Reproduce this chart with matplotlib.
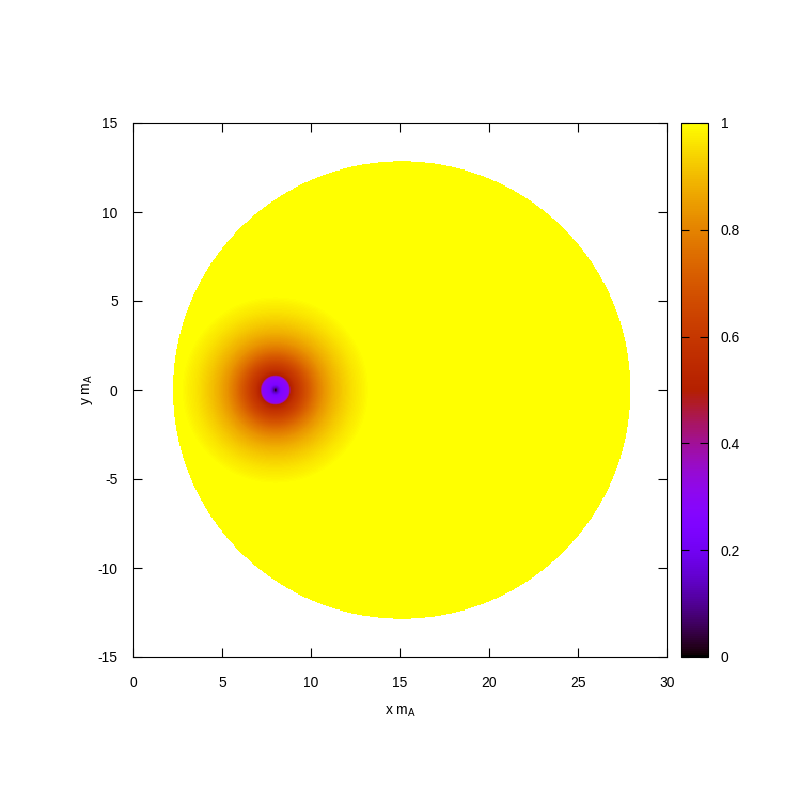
import numpy as np
import matplotlib
matplotlib.use("Agg")
from matplotlib import pyplot as plt

plt.rcParams['font.family'] = ['Liberation Sans', 'DejaVu Sans']
plt.rcParams['mathtext.fontset'] = 'custom'
plt.rcParams['mathtext.rm'] = 'Liberation Sans'
plt.rcParams['axes.unicode_minus'] = False

# disc (trap) and vortex position, in units of m_A
disc_center = (15.1, 0.0)
disc_radius = 12.85
vortex_center = (8.0, 0.0)

# radial density profile around the vortex core
profile_r = [0.0, 0.1, 0.3, 0.6, 0.75, 0.85, 1.1, 1.4, 1.8, 2.2, 2.7, 3.2, 3.8, 4.4, 5.0, 5.3]
profile_v = [0.0, 0.12, 0.24, 0.28, 0.31, 0.50, 0.57, 0.62, 0.69, 0.76, 0.83, 0.88, 0.925, 0.96, 0.985, 1.0]

x_ticks = [0, 5, 10, 15, 20, 25, 30]
y_ticks = [-15, -10, -5, 0, 5, 10, 15]
cb_ticks = [0, 0.2, 0.4, 0.6, 0.8, 1]

# grid
step = 0.06
xs = np.arange(0, 30 + step, step)
ys = np.arange(-15, 15 + step, step)
X, Y = np.meshgrid(xs, ys)
rv = np.hypot(X - vortex_center[0], Y - vortex_center[1])
Z = np.interp(rv, profile_r, profile_v)
outside = np.hypot(X - disc_center[0], Y - disc_center[1]) > disc_radius
Z = np.ma.masked_where(outside, Z)

fig = plt.figure(figsize=(8, 8), dpi=100)
ax = fig.add_axes([0.16625, 0.17875, 0.6675, 0.6675])
mesh = ax.pcolormesh(X, Y, Z, cmap='gnuplot', vmin=0, vmax=1, shading='nearest')
ax.set_xlim(0, 30)
ax.set_ylim(-15, 15)
ax.set_xticks(x_ticks)
ax.set_yticks(y_ticks)
ax.tick_params(direction='in', length=6.5, width=0.8, top=True, right=True,
               labelsize=10, colors='black')
ax.tick_params(axis='x', pad=14)
ax.tick_params(axis='y', pad=11)
ax.set_xlabel('x m$_\\mathrm{A}$', fontsize=10, labelpad=10)
ax.set_ylabel('y m$_\\mathrm{A}$', fontsize=10, labelpad=2)
for s in ax.spines.values():
    s.set_linewidth(0.8)

cax = fig.add_axes([0.85125, 0.17875, 0.03375, 0.6675])
cb = fig.colorbar(mesh, cax=cax, ticks=cb_ticks)
cb.ax.set_yticklabels(['0', '0.2', '0.4', '0.6', '0.8', '1'])
cb.ax.tick_params(direction='in', length=6, width=0.8, left=True, right=True,
                  labelsize=10, pad=9)
cb.outline.set_linewidth(0.8)

fig.savefig('out.png', dpi=100)
